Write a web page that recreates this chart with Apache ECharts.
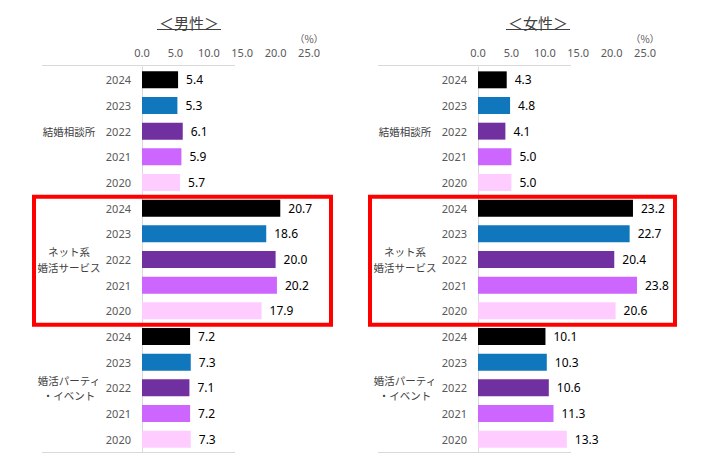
<!DOCTYPE html>
<html>
<head>
<meta charset="utf-8">
<script src="https://cdn.jsdelivr.net/npm/echarts@6/dist/echarts.min.js"></script>
<style>
  html, body { margin: 0; padding: 0; background: #fff; }
  #main { width: 712px; height: 467px; }
</style>
</head>
<body>
<div id="main"></div>
<script>
// ---- data ----
var years = ['2024', '2023', '2022', '2021', '2020'];
var groups = ['結婚相談所', 'ネット系\n婚活サービス', '婚活パーティ\n・イベント'];
var panelTitles = ['＜男性＞', '＜女性＞'];

var maleAgency = [5.4, 5.3, 6.1, 5.9, 5.7];
var maleOnline = [20.7, 18.6, 20.0, 20.2, 17.9];
var maleParty = [7.2, 7.3, 7.1, 7.2, 7.3];

var femaleAgency = [4.3, 4.8, 4.1, 5.0, 5.0];
var femaleOnline = [23.2, 22.7, 20.4, 23.8, 20.6];
var femaleParty = [10.1, 10.3, 10.6, 11.3, 13.3];

var axisMin = 0, axisMax = 25, axisStep = 5;

// ---- style ----
var yearColors = ['#000000', '#1077BD', '#7030A0', '#CC66FF', '#FFCCFF'];
var gray = '#595959';
var lineGray = '#D9D9D9';
var font = '"Noto Sans", "Noto Sans CJK JP", sans-serif';
var jpFont = '"Noto Sans CJK JP", sans-serif';

// row keys: group|year, shown as year only
var rowKeys = [];
groups.forEach(function (g, gi) {
  years.forEach(function (y) { rowKeys.push(gi + '|' + y); });
});
var maleValues = maleAgency.concat(maleOnline, maleParty);
var femaleValues = femaleAgency.concat(femaleOnline, femaleParty);

var gridLefts = [142, 478];

var chart = echarts.init(document.getElementById('main'), null, { renderer: 'svg' });

var grids = [], xAxes = [], yAxes = [], series = [];
[maleValues, femaleValues].forEach(function (vals, i) {
  grids.push({ left: gridLefts[i], top: 67, width: 167, height: 385 });
  xAxes.push({
    type: 'value', gridIndex: i, position: 'top',
    min: axisMin, max: axisMax, interval: axisStep,
    axisLine: { show: false }, axisTick: { show: false }, splitLine: { show: false },
    axisLabel: {
      color: gray, fontSize: 11, fontFamily: font, margin: 8, lineHeight: 14,
      formatter: function (v) {
        return v === axisMax ? '{u|（%）}\n' + v.toFixed(1) : v.toFixed(1);
      },
      rich: { u: { color: gray, fontSize: 10, fontFamily: jpFont, lineHeight: 14 } }
    }
  });
  yAxes.push({
    type: 'category', gridIndex: i, inverse: true, data: rowKeys,
    axisLine: { show: true, lineStyle: { color: lineGray, width: 1 } },
    axisTick: { show: false },
    axisLabel: {
      color: gray, fontSize: 11, fontFamily: font, margin: 11,
      formatter: function (v) { return v.split('|')[1]; }
    }
  });
  yAxes.push({
    type: 'category', gridIndex: i, inverse: true, data: groups, position: 'left',
    axisLine: { show: false }, axisTick: { show: false },
    axisLabel: {
      color: '#404040', fontSize: 10.5, fontFamily: jpFont, margin: 73,
      align: 'center', lineHeight: 15.5
    }
  });
  series.push({
    type: 'bar', xAxisIndex: i, yAxisIndex: i * 2,
    data: vals, barCategoryGap: '34%',
    itemStyle: { color: function (p) { return yearColors[p.dataIndex % years.length]; } },
    label: {
      show: true, position: 'right', distance: 8,
      color: '#000', fontSize: 12, fontFamily: font,
      formatter: function (p) { return p.value.toFixed(1); }
    }
  });
});

chart.setOption({
  animation: false,
  grid: grids,
  xAxis: xAxes,
  yAxis: yAxes,
  series: series
});

// ---- decorations: titles, frame lines, red highlight box ----
var titleX = [189, 538];
var graphics = [];
[0, 1].forEach(function (i) {
  var x0 = chart.convertToPixel({ xAxisIndex: i }, 0);
  var yFirst = chart.convertToPixel({ yAxisIndex: i * 2 }, 0);
  var ySecond = chart.convertToPixel({ yAxisIndex: i * 2 }, 1);
  var band = ySecond - yFirst;
  var yTop = yFirst - band / 2;
  var yBottom = chart.convertToPixel({ yAxisIndex: i * 2 }, rowKeys.length - 1) + band / 2;
  var boxTop = chart.convertToPixel({ yAxisIndex: i * 2 }, years.length) - band / 2 + 1.5;
  var boxBottom = chart.convertToPixel({ yAxisIndex: i * 2 }, years.length * 2 - 1) + band / 2 + 1;

  graphics.push({
    type: 'text', x: titleX[i], y: 22,
    style: { text: panelTitles[i], fill: '#404040', font: '15px ' + jpFont, textAlign: 'center', textVerticalAlign: 'middle' }
  });
  graphics.push({
    type: 'line', shape: { x1: titleX[i] - 32, y1: 29.5, x2: titleX[i] + 32, y2: 29.5 },
    style: { stroke: '#404040', lineWidth: 1 }
  });
  [yTop - 1.5, yBottom + 0.5].forEach(function (yy) {
    graphics.push({
      type: 'line', shape: { x1: x0 - 100, y1: yy, x2: x0 + 93, y2: yy },
      style: { stroke: lineGray, lineWidth: 1 }
    });
  });
  graphics.push({
    type: 'rect', z: 100,
    shape: { x: x0 - 108, y: boxTop, width: i === 0 ? 297 : 305, height: boxBottom - boxTop },
    style: { fill: 'none', stroke: '#FF0000', lineWidth: 4 }
  });
});
chart.setOption({ graphic: graphics });
</script>
</body>
</html>
